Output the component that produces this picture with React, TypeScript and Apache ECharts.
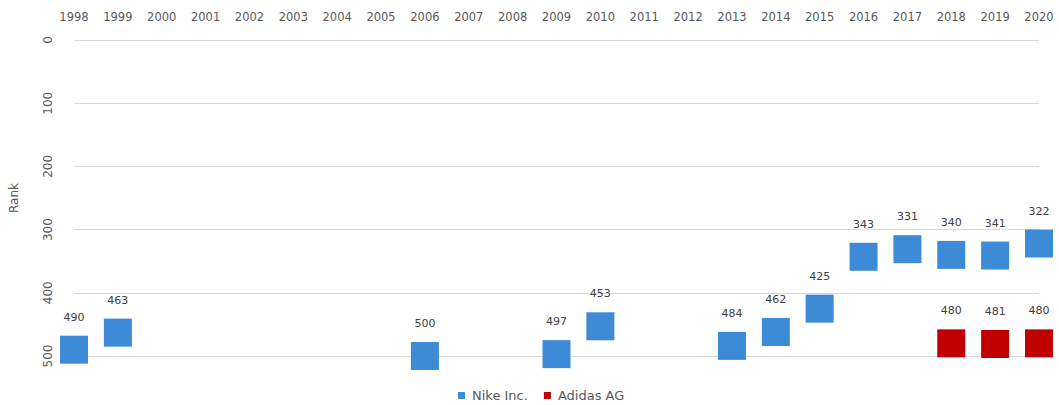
import React, { useEffect, useRef } from "react";
import * as echarts from "echarts";

const years = ["1998","1999","2000","2001","2002","2003","2004","2005","2006","2007","2008","2009","2010","2011","2012","2013","2014","2015","2016","2017","2018","2019","2020"];
const nike: (number | null)[] = [490, 463, null, null, null, null, null, null, 500, null, null, 497, 453, null, null, 484, 462, 425, 343, 331, 340, 341, 322];
const adidas: (number | null)[] = [null, null, null, null, null, null, null, null, null, null, null, null, null, null, null, null, null, null, null, null, 480, 481, 480];

export default function App() {
  const ref = useRef<HTMLDivElement>(null);
  useEffect(() => {
    const chart = echarts.init(ref.current!, null, { renderer: "svg" });
    const label = {
      show: true,
      position: "top" as const,
      distance: 13,
      color: "#404040",
      fontSize: 11,
      fontFamily: "DejaVu Sans",
    };
    chart.setOption({
      animation: false,
      backgroundColor: "#ffffff",
      textStyle: { fontFamily: "DejaVu Sans" },
      grid: { left: 73, right: 20, top: 40, bottom: 49 },
      legend: {
        top: 384,
        left: 453,
        itemWidth: 7,
        itemHeight: 7,
        itemGap: 16,
        icon: "rect",
        textStyle: { color: "#595959", fontSize: 13, padding: [0, 0, 0, 2] },
        data: ["Nike Inc.", "Adidas AG"],
      },
      xAxis: {
        type: "category",
        position: "top",
        boundaryGap: false,
        data: years,
        axisLine: { show: false },
        axisTick: { show: false },
        axisLabel: { color: "#595959", fontSize: 11.5, margin: 17, interval: 0 },
      },
      yAxis: {
        type: "value",
        inverse: true,
        min: 0,
        max: 500,
        interval: 100,
        name: "Rank",
        nameLocation: "middle",
        nameGap: 54,
        nameRotate: 90,
        nameTextStyle: { color: "#595959", fontSize: 12 },
        axisLine: { show: false },
        axisTick: { show: false },
        axisLabel: { color: "#595959", fontSize: 12, rotate: 90, margin: 20 },
        splitLine: { lineStyle: { color: "#d9d9d9", width: 1 } },
      },
      series: [
        {
          name: "Nike Inc.",
          type: "scatter",
          symbol: "rect",
          symbolSize: 28,
          itemStyle: { color: "#3d8bd6", opacity: 1 },
          label,
          data: nike,
        },
        {
          name: "Adidas AG",
          type: "scatter",
          symbol: "rect",
          symbolSize: 28,
          itemStyle: { color: "#c00000", opacity: 1 },
          label,
          data: adidas,
        },
      ],
    });
    return () => chart.dispose();
  }, []);
  return <div ref={ref} style={{ width: 1059, height: 405, position: "absolute", left: 0, top: 0 }} />;
}
